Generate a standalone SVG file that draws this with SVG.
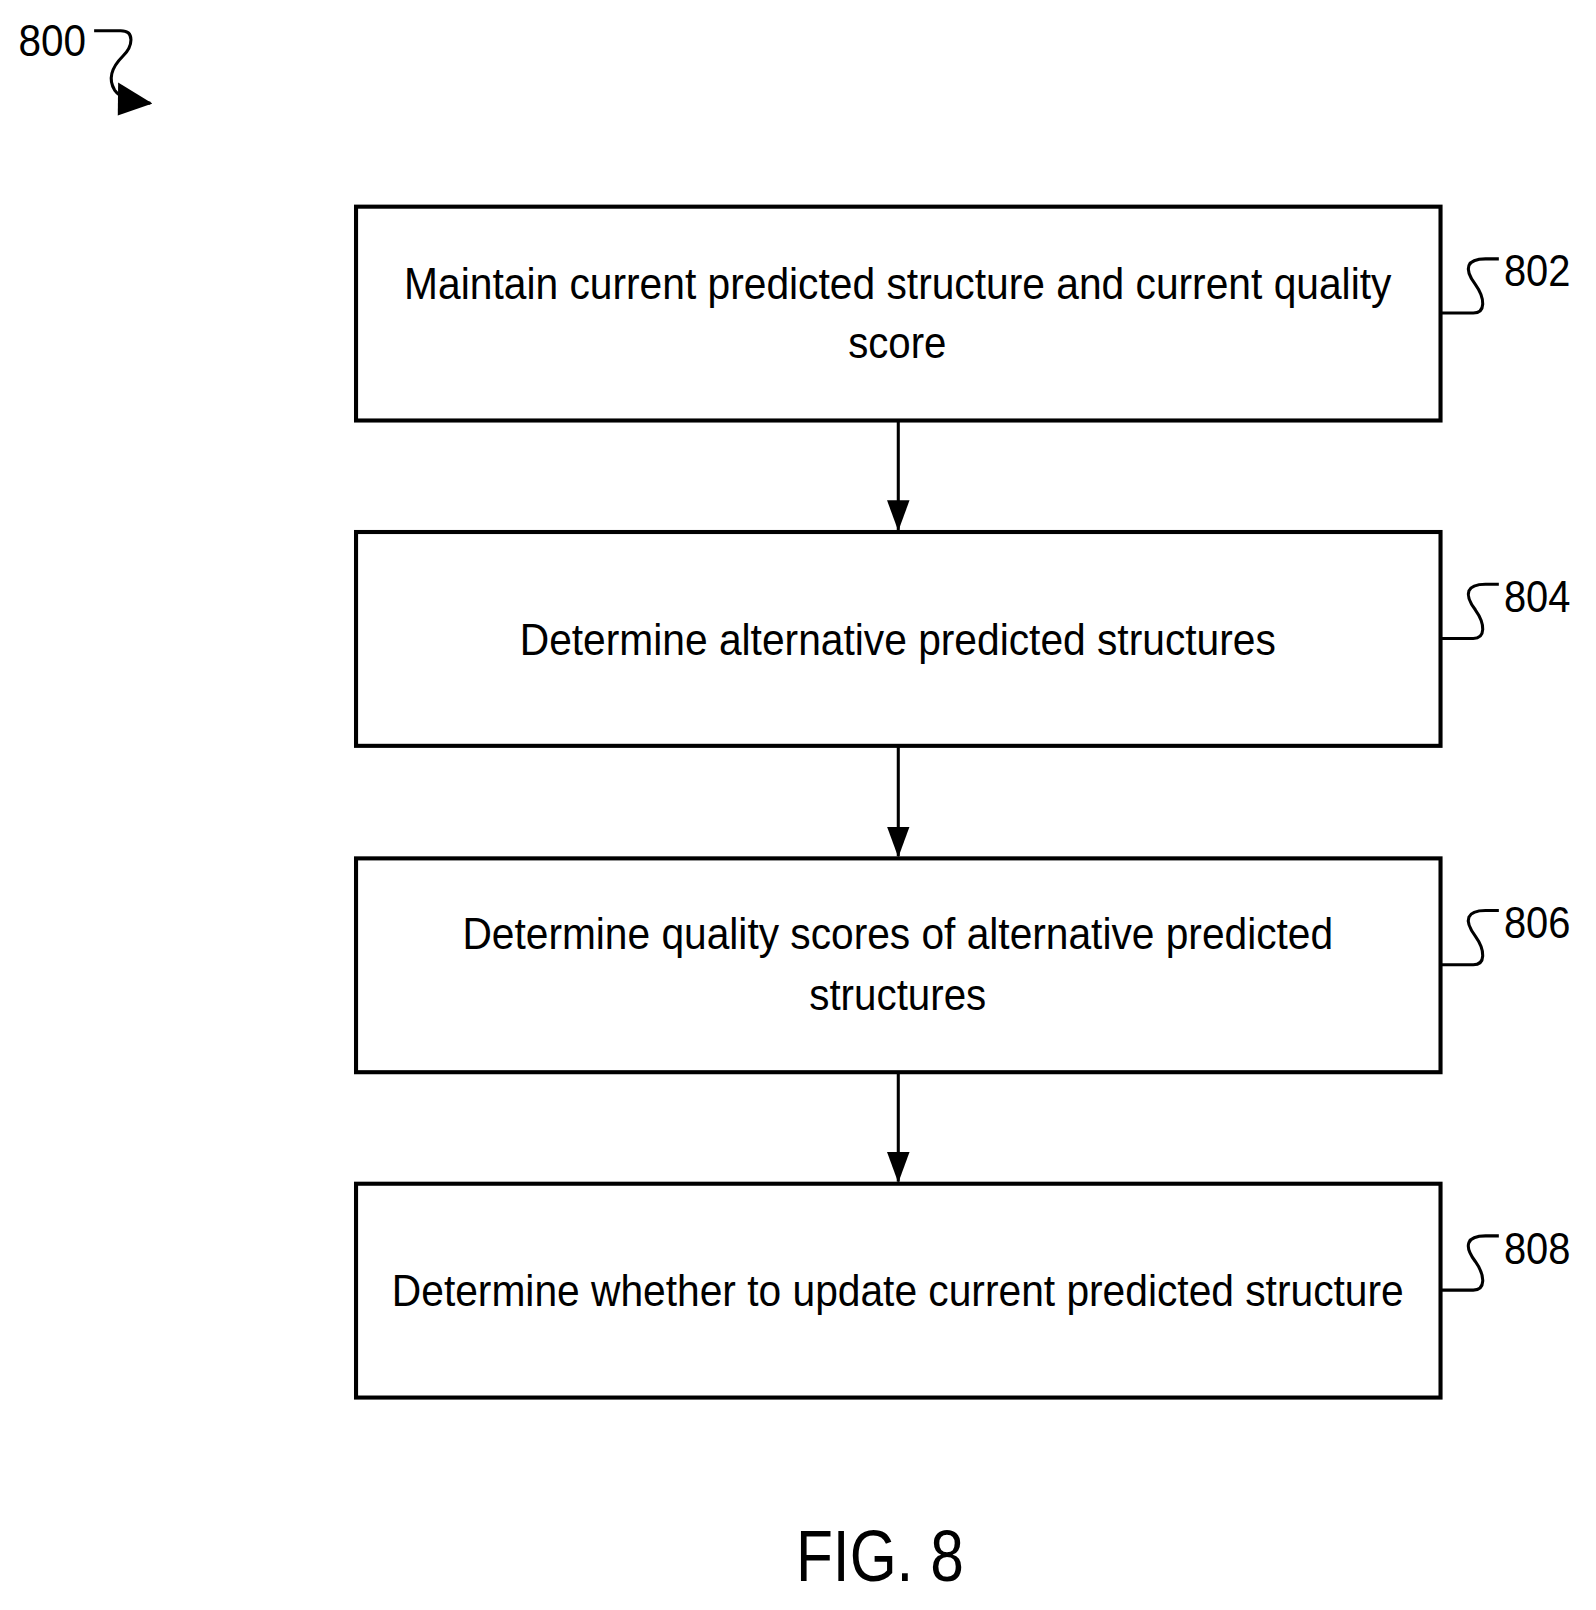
<svg xmlns="http://www.w3.org/2000/svg" width="1596" height="1610" viewBox="0 0 1596 1610">
<style>
.b{fill:#fff;stroke:#000;stroke-width:4}
.t{font-family:"Liberation Sans",Arial,sans-serif;font-size:44px;fill:#000}
.l{fill:none;stroke:#000;stroke-width:3}
</style>
<defs>
<marker id="h" viewBox="0 0 30 30" refX="29" refY="15" markerWidth="30" markerHeight="30" orient="auto" markerUnits="userSpaceOnUse"><path d="M0 4L30 15L0 26z"/></marker>
<marker id="h2" viewBox="0 0 36 36" refX="34" refY="18" markerWidth="36" markerHeight="36" orient="auto" markerUnits="userSpaceOnUse"><path d="M0 2L36 18L4 34z"/></marker></defs>
<rect width="1596" height="1610" fill="#fff"/>
<g transform="scale(1.0231)">
<text class="t" x="18" y="55" textLength="66" lengthAdjust="spacingAndGlyphs">800</text>
<path class="l" d="M92 30H118C132 30 130 45 120 55C108 67 106 78 112 88C117 95 125 98 147 101" marker-end="url(#h2)"/>
<g id="n802"><rect class="b" x="348" y="202" width="1060" height="209"/>
<text class="t" x="395" y="292" textLength="965" lengthAdjust="spacingAndGlyphs">Maintain current predicted structure and current quality</text>
<text class="t" x="829" y="350" textLength="96" lengthAdjust="spacingAndGlyphs">score</text>
<path class="l" d="M1408 306H1440C1452 306 1452 292 1442 278C1430 262 1434 253 1452 253H1465"/>
<text class="t" x="1470" y="280" textLength="65" lengthAdjust="spacingAndGlyphs">802</text></g>
<g id="n804"><rect class="b" x="348" y="520" width="1060" height="209"/>
<text class="t" x="508" y="640" textLength="739" lengthAdjust="spacingAndGlyphs">Determine alternative predicted structures</text>
<path class="l" d="M1408 624H1440C1452 624 1452 610 1442 596C1430 580 1434 571 1452 571H1465"/>
<text class="t" x="1470" y="598" textLength="65" lengthAdjust="spacingAndGlyphs">804</text></g>
<g id="n806"><rect class="b" x="348" y="839" width="1060" height="209"/>
<text class="t" x="452" y="928" textLength="851" lengthAdjust="spacingAndGlyphs">Determine quality scores of alternative predicted</text>
<text class="t" x="791" y="987" textLength="173" lengthAdjust="spacingAndGlyphs">structures</text>
<path class="l" d="M1408 943H1440C1452 943 1452 929 1442 915C1430 899 1434 890 1452 890H1465"/>
<text class="t" x="1470" y="917" textLength="65" lengthAdjust="spacingAndGlyphs">806</text></g>
<g id="n808"><rect class="b" x="348" y="1157" width="1060" height="209"/>
<text class="t" x="383" y="1277" textLength="989" lengthAdjust="spacingAndGlyphs">Determine whether to update current predicted structure</text>
<path class="l" d="M1408 1261H1440C1452 1261 1452 1247 1442 1233C1430 1217 1434 1208 1452 1208H1465"/>
<text class="t" x="1470" y="1235" textLength="65" lengthAdjust="spacingAndGlyphs">808</text></g>
<g id="connectors" fill="none" stroke="#000" stroke-width="3">
<path d="M878 411V518" marker-end="url(#h)"/>
<path d="M878 729V837" marker-end="url(#h)"/>
<path d="M878 1048V1155" marker-end="url(#h)"/>
</g>
<text class="t" x="778" y="1545" style="font-size:70px" textLength="164" lengthAdjust="spacingAndGlyphs">FIG. 8</text>
</g>
</svg>
